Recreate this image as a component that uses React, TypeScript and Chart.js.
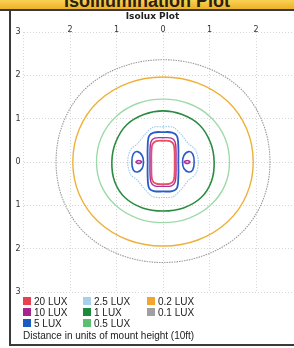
import React, { useEffect, useRef } from 'react';
import { Chart, registerables } from 'chart.js';

Chart.register(...registerables);

type P = [number, number];

// Legend / levels
const luxLabels = ['20 LUX', '10 LUX', '5 LUX', '2.5 LUX', '1 LUX', '0.5 LUX', '0.2 LUX', '0.1 LUX'];
const legendColors = ['#e8404f', '#a8248f', '#1a5cc0', '#a6d0ee', '#1a8a3c', '#5cc070', '#f2a530', '#a0a0a0'];
const lineColors = ['#e8506a', '#b03098', '#2a5cc8', '#9ccbec', '#2a8c42', '#9edaa8', '#efb03a', '#9a9a9a'];

// Axis ticks
const axisMin = -3;
const axisMax = 3;
const xVisibleMax = 2.817;

// Contours: right halves, from top (x=0) down to bottom (x=0), in mount-height units
const lux01Right: P[] = [[0, 2.36], [0.9, 2.19], [1.66, 1.7], [2.14, 0.92], [2.3, 0], [2.14, -0.9], [1.66, -1.66], [0.9, -2.15], [0, -2.32]];
const lux02Right: P[] = [[0, 1.96], [0.75, 1.82], [1.39, 1.4], [1.8, 0.76], [1.94, 0], [1.8, -0.75], [1.39, -1.38], [0.75, -1.8], [0, -1.94]];
const lux05Right: P[] = [[0, 1.45], [0.55, 1.35], [1.02, 1.04], [1.33, 0.56], [1.43, 0], [1.33, -0.54], [1.02, -1.0], [0.55, -1.3], [0, -1.4]];
const lux1Right: P[] = [[0, 1.18], [0.4, 1.1], [0.78, 0.86], [1.02, 0.45], [1.1, 0], [1.04, -0.45], [0.82, -0.82], [0.44, -1.06], [0, -1.13]];
const lux25Right: P[] = [[0, 0.81], [0.22, 0.8], [0.4, 0.62], [0.55, 0.42], [0.7, 0.28], [0.76, 0], [0.7, -0.28], [0.55, -0.42], [0.4, -0.62], [0.22, -0.8], [0, -0.82]];
const lux5Right: P[] = [[0, 0.69], [0.2, 0.68], [0.3, 0.6], [0.33, 0.35], [0.33, 0], [0.33, -0.35], [0.3, -0.6], [0.2, -0.67], [0, -0.68]];
const lux10Right: P[] = [[0, 0.56], [0.18, 0.55], [0.26, 0.46], [0.28, 0.25], [0.28, 0], [0.28, -0.25], [0.26, -0.46], [0.18, -0.55], [0, -0.56]];
const lux20Right: P[] = [[0, 0.49], [0.15, 0.48], [0.23, 0.4], [0.25, 0.2], [0.25, 0], [0.25, -0.2], [0.23, -0.42], [0.15, -0.5], [0, -0.51]];
// Side lobes (right side loops; left side mirrored)
const lux5Lobe: P[] = [[0.55, 0.24], [0.64, 0.18], [0.67, 0], [0.64, -0.18], [0.55, -0.23], [0.45, -0.15], [0.42, 0], [0.45, 0.15], [0.55, 0.24]];
const lux10Lobe: P[] = [[0.52, 0.035], [0.58, 0], [0.52, -0.035], [0.46, 0], [0.52, 0.035]];

type XY = { x: number; y: number };
const toPts = (a: P[], sx = 1): XY[] => a.map(([x, y]) => ({ x: x * sx, y }));
function closedFromRight(right: P[]): XY[] {
  const r = toPts(right);
  const left = right.slice(0, right.length - 1).reverse().map(([x, y]) => ({ x: -x, y }));
  return [...r, ...left];
}
// wrap a closed loop with one extra point on each side so the join is smooth
function wrapLoop(loop: XY[]): XY[] {
  const n = loop.length;
  return [loop[n - 2], ...loop, loop[1]];
}

function loopDs(loop: XY[], color: string, width: number, dash: number[] = [], fill = false, tension = 0.35) {
  const data = wrapLoop(loop);
  const last = data.length - 1;
  const hidden = 'rgba(0,0,0,0)';
  return {
    data,
    showLine: true,
    borderColor: color,
    backgroundColor: color,
    borderWidth: width,
    borderDash: dash,
    pointRadius: 0,
    tension,
    fill,
    segment: {
      borderColor: (ctx: any) => (ctx.p0DataIndex === 0 || ctx.p1DataIndex === last ? hidden : color),
    },
  };
}

export default function App() {
  const ref = useRef<HTMLCanvasElement | null>(null);

  useEffect(() => {
    if (!ref.current) return;
    const datasets = [
      loopDs(closedFromRight(lux01Right), lineColors[7], 1.1, [1.5, 1]),
      loopDs(closedFromRight(lux02Right), lineColors[6], 1.4),
      loopDs(closedFromRight(lux05Right), lineColors[5], 1.4),
      loopDs(closedFromRight(lux1Right), lineColors[4], 1.6),
      loopDs(closedFromRight(lux25Right), lineColors[3], 1.1, [1.5, 1], false, 0.3),
      loopDs(closedFromRight(lux5Right), lineColors[2], 1.8),
      loopDs(toPts(lux5Lobe), lineColors[2], 1.6),
      loopDs(toPts(lux5Lobe, -1), lineColors[2], 1.6),
      loopDs(closedFromRight(lux10Right), lineColors[1], 1.4),
      loopDs(toPts(lux10Lobe), lineColors[1], 1.6),
      loopDs(toPts(lux10Lobe, -1), lineColors[1], 1.6),
      loopDs(closedFromRight(lux20Right), lineColors[0], 1.8),
    ];
    const gridOpts = { color: '#d6d6d6', lineWidth: 1, drawTicks: false };
    const borderOpts = { display: false, dash: [1, 2] };
    const tickFont = { family: 'DejaVu Sans', size: 8 };
    const chart = new Chart(ref.current, {
      type: 'scatter',
      data: { datasets: datasets as any },
      options: {
        responsive: false,
        animation: false,
        layout: { padding: { left: 0, right: 0, top: 0, bottom: 9 } },
        plugins: {
          legend: { display: false },
          tooltip: { enabled: false },
          title: {
            display: true,
            text: 'Isolux Plot',
            color: '#222',
            font: { family: 'DejaVu Sans', size: 9, weight: 'bold' },
            padding: { top: 0, bottom: 0 },
          },
        },
        scales: {
          x: {
            type: 'linear',
            position: 'top',
            min: axisMin,
            max: xVisibleMax,
            afterFit: (s: any) => { s.height = 10.2; },
            ticks: {
              stepSize: 1,
              includeBounds: false,
              padding: -2.5,
              color: '#333',
              font: tickFont,
              callback: (v: any) => (v === axisMin ? '' : String(Math.abs(v))),
            },
            grid: gridOpts,
            border: borderOpts,
          },
          y: {
            type: 'linear',
            position: 'left',
            min: axisMin,
            max: axisMax,
            afterFit: (s: any) => { s.width = 12.5; },
            ticks: {
              stepSize: 1,
              padding: 3,
              color: '#333',
              font: tickFont,
              callback: (v: any) => String(Math.abs(v)),
            },
            grid: gridOpts,
            border: borderOpts,
          },
        },
      } as any,
    });
    return () => chart.destroy();
  }, []);

  const colX = [23, 83, 147];
  const rowY = [301, 312, 323];
  const legendText = { fontFamily: '"Liberation Sans", Arial, sans-serif', fontSize: 10, color: '#222', lineHeight: '11px' };

  return (
    <div style={{ position: 'fixed', left: 0, top: 0, width: 294, height: 348, background: '#fff', overflow: 'hidden' }}>
      <div style={{ position: 'absolute', left: 0, top: 0, width: 294, height: 9, overflow: 'hidden', background: 'linear-gradient(#f8d255, #eeb026)' }}>
        <div style={{ position: 'absolute', left: 0, top: -8.5, width: 294, textAlign: 'center', fontFamily: '"Liberation Sans", Arial, sans-serif', fontWeight: 'bold', fontSize: 18, lineHeight: '18px', color: '#2a2010' }}>
          Isoillumination Plot
        </div>
      </div>
      <div style={{ position: 'absolute', left: 0, top: 9, width: 294, height: 2, background: '#3a3a3a' }} />
      <div style={{ position: 'absolute', left: 9, top: 9, width: 2, height: 337, background: '#3a3a3a' }} />
      <div style={{ position: 'absolute', left: 9, top: 344, width: 285, height: 2, background: '#3a3a3a' }} />
      <canvas ref={ref} width={283} height={290} style={{ position: 'absolute', left: 11, top: 11, width: 283, height: 290 }} />
      {luxLabels.map((lab, i) => {
        const col = Math.floor(i / 3);
        const row = i % 3;
        return (
          <div key={lab} style={{ position: 'absolute', left: colX[col], top: rowY[row] - 5.5, height: 11, display: 'flex', alignItems: 'center', ...legendText }}>
            <span style={{ display: 'inline-block', width: 8, height: 8, background: legendColors[i], marginRight: 3 }} />
            <span>{lab}</span>
          </div>
        );
      })}
      <div style={{ position: 'absolute', left: 23, top: 330, ...legendText, lineHeight: '12px' }}>
        Distance in units of mount height (10ft)
      </div>
    </div>
  );
}
